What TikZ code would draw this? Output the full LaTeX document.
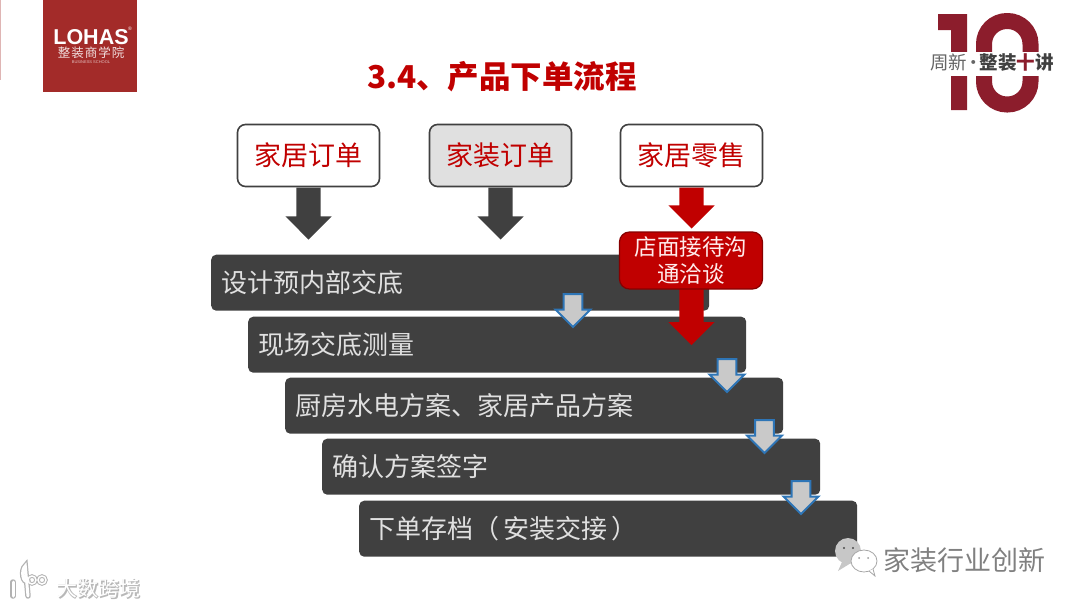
\documentclass[tikz,border=0pt]{standalone}
\usepackage{fontspec}
\setmainfont{Noto Sans CJK SC}
\newfontfamily\latinfont{Liberation Sans}
\usetikzlibrary{shapes.arrows}
\definecolor{logored}{HTML}{A32B29}
\definecolor{tenred}{HTML}{8C1D2C}
\definecolor{titlered}{HTML}{C00000}
\definecolor{bardark}{HTML}{404040}
\definecolor{flowblue}{HTML}{2E75B6}
\tikzset{
  typebox/.style={draw=bardark, line width=1.6pt, rounded corners=8pt, minimum width=142pt, minimum height=62pt, inner sep=0pt, text=titlered, font=\fontsize{27}{30}\selectfont},
  stepbar/.style={fill=bardark, rounded corners=5pt, anchor=north west, text width=478pt, minimum height=56pt, inner xsep=10pt, inner ysep=0pt, align=left, text=white!88!black, font=\fontsize{26}{30}\selectfont},
  blockarrow/.style={single arrow, shape border rotate=270, single arrow tip angle=90, single arrow head indent=0pt, inner sep=0pt, anchor=tail},
  bigarrow/.style={blockarrow, fill=bardark, text width=24pt, single arrow head extend=11pt},
  redarrow/.style={bigarrow, fill=titlered},
  stepdown/.style={blockarrow, fill=black!21, draw=flowblue, line width=2pt, text width=16pt, single arrow head extend=8pt, minimum height=33pt},
}
\begin{document}
\begin{tikzpicture}[x=1pt, y=-1pt]
\useasboundingbox (0,0) rectangle (1080,608);

\fill[logored!35] (0,0) rectangle (1.2,80);
\fill[logored] (43,0) rectangle (137,92);
\node[text=white, font=\latinfont\bfseries\fontsize{21.5}{23}\selectfont, inner sep=0pt] (lohas) at (91,37) {LOHAS};
\node[text=white, font=\latinfont\fontsize{5}{6}\selectfont, inner sep=0pt] (lohasr) at (130,29) {®};
\node[text=white!85!logored, font=\fontsize{12.5}{14}\selectfont, inner sep=0pt] (lohascn) at (91,53) {整\hspace{1pt}装\hspace{1pt}商\hspace{1pt}学\hspace{1pt}院};
\node[text=white!70!logored, font=\latinfont\fontsize{4}{5}\selectfont, inner sep=0pt] (lohasen) at (91,62) {BUSINESS SCHOOL};

\fill[tenred] (938,14) -- (967,14) -- (967,110) -- (951,110) -- (951,30) -- (938,30) -- cycle;
\draw[tenred, line width=16pt, rounded corners=23pt] (984,21) rectangle (1030.5,104.5);
\fill[white] (925,52) rectangle (1060,76);
\node[inner sep=0pt, font=\fontsize{18.5}{22}\selectfont, text=bardark] (tenlabel) at (992,63) {\textcolor{black!60}{周新\hspace{-3pt}·\hspace{-3pt}}\textbf{整装\textcolor{tenred}{十}讲}};

\node[text=titlered, font=\bfseries\fontsize{31.5}{34}\selectfont, inner sep=0pt] (title) at (502,77) {3.4、产品下单流程};

\node[typebox] (homeorder) at (308.5,155.5) {家居订单};
\node[typebox, fill=black!12] (fitorder) at (500.5,155.5) {家装订单};
\node[typebox] (retail) at (691.5,155.5) {家居零售};

\node[bigarrow, minimum height=52pt, minimum width=46pt] (homedown) at (homeorder.south) {};
\node[bigarrow, minimum height=52pt, minimum width=46pt] (fitdown) at (fitorder.south) {};
\node[redarrow, minimum height=41pt, minimum width=46pt] (retaildown) at (retail.south) {};

\node[stepbar] (design) at (211,254.5) {设计预内部交底};
\node[stepbar] (measure) at (248,316.5) {现场交底测量};
\node[stepbar] (plan) at (285,377.5) {厨房水电方案、家居产品方案};
\node[stepbar] (sign) at (322,438.5) {确认方案签字};
\node[stepbar] (archive) at (359,500.5) {下单存档（\hspace{4pt}安装交接\hspace{4pt}）};

\node[stepdown, minimum width=35pt] (flowa) at (573,293) {};
\node[stepdown, minimum width=35pt] (flowb) at (727,358) {};
\node[stepdown, minimum width=35pt] (flowc) at (764.5,419) {};
\node[stepdown, minimum width=35pt] (flowd) at (801,480) {};

\node[redarrow, minimum height=58pt, minimum width=46pt] (talkdown) at (691.5,287) {};
\node[fill=titlered, draw=titlered!70!black, line width=1.2pt, rounded corners=10pt, minimum width=143pt, minimum height=57pt, inner sep=0pt, align=center, text=white!92!red, font=\fontsize{22.5}{27}\selectfont] (talk) at (691,260.5) {店面接待沟\\通洽谈};

\fill[black!22] (848,551) ellipse (13 and 13);
\fill[black!22] (842,562) -- (838,571) -- (851,563) -- cycle;
\fill[black!70] (844,548) circle (1.2) (853,548) circle (1.2);
\filldraw[fill=white, draw=black!35, line width=0.8pt] (864,561) ellipse (13 and 11);
\filldraw[fill=white, draw=black!35, line width=0.8pt] (869,571) -- (875,576) -- (873,569);
\fill[black!40] (859,558) circle (1) (868,558) circle (1);
\node[text=black!50, font=\fontsize{27}{30}\selectfont, inner sep=0pt] (wechat) at (964.5,560) {家装行业创新};

\draw[black!30, line width=5.5pt, line cap=round] (13,582) -- (13,596);
\draw[black!30, line width=5.5pt, line cap=round] (28,581) arc (70:250:4 and 8) -- (28,596);
\draw[black!30, line width=3.5pt] (32,580) circle (4) (42,580) circle (4);
\draw[white, line width=3pt, line cap=round] (13,582) -- (13,596);
\draw[white, line width=3pt, line cap=round] (28,581) arc (70:250:4 and 8) -- (28,596);
\draw[white, line width=1.5pt] (32,580) circle (4) (42,580) circle (4);
\node[text=black!28, font=\bfseries\fontsize{21}{24}\selectfont, inner sep=0pt] (brandshade) at (99,589) {大数跨境};
\node[text=white, font=\fontsize{21}{24}\selectfont, inner sep=0pt] (brand) at (98.5,588.5) {大数跨境};
\end{tikzpicture}
\end{document}
